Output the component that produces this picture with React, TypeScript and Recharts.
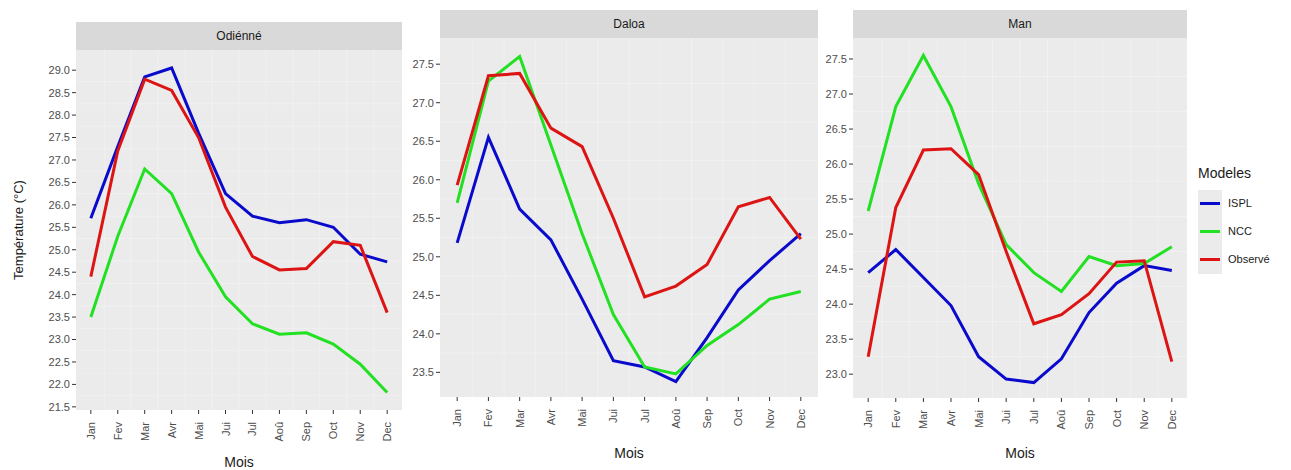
import React from 'react';
import { LineChart, Line, XAxis, YAxis, CartesianGrid, ReferenceLine } from 'recharts';

const months = ['Jan', 'Fev', 'Mar', 'Avr', 'Mai', 'Jui', 'Jul', 'Aoû', 'Sep', 'Oct', 'Nov', 'Dec'];

const odienneISPL = [25.7, 27.3, 28.85, 29.05, 27.6, 26.25, 25.75, 25.6, 25.67, 25.5, 24.9, 24.73];
const odienneNCC = [23.5, 25.3, 26.8, 26.25, 24.95, 23.95, 23.35, 23.12, 23.15, 22.9, 22.45, 21.82];
const odienneObs = [24.4, 27.2, 28.8, 28.55, 27.5, 25.95, 24.85, 24.55, 24.58, 25.18, 25.1, 23.6];

const daloaISPL = [25.18, 26.55, 25.62, 25.22, 24.45, 23.65, 23.57, 23.38, 23.95, 24.57, 24.95, 25.3];
const daloaNCC = [25.7, 27.28, 27.6, 26.45, 25.3, 24.25, 23.57, 23.48, 23.85, 24.12, 24.45, 24.55];
const daloaObs = [25.93, 27.35, 27.38, 26.67, 26.43, 25.5, 24.48, 24.62, 24.9, 25.65, 25.77, 25.23];

const manISPL = [24.45, 24.78, 24.38, 23.98, 23.25, 22.93, 22.88, 23.22, 23.88, 24.3, 24.55, 24.48];
const manNCC = [25.33, 26.82, 27.55, 26.82, 25.72, 24.85, 24.45, 24.18, 24.68, 24.55, 24.58, 24.82];
const manObs = [23.25, 25.38, 26.2, 26.22, 25.85, 24.75, 23.72, 23.85, 24.15, 24.6, 24.62, 23.18];

const odienneTicks = [21.5, 22, 22.5, 23, 23.5, 24, 24.5, 25, 25.5, 26, 26.5, 27, 27.5, 28, 28.5, 29];
const daloaTicks = [23.5, 24, 24.5, 25, 25.5, 26, 26.5, 27, 27.5];
const manTicks = [23, 23.5, 24, 24.5, 25, 25.5, 26, 26.5, 27, 27.5];

const COLORS = { ispl: '#0a0acc', ncc: '#22e022', obs: '#dd1414' };
const FONT = '"Liberation Sans", Arial, sans-serif';

const build = (a: number[], b: number[], c: number[]) =>
  months.map((m, i) => ({ x: i + 1, ispl: a[i], ncc: b[i], obs: c[i] }));

const XTick = (props: any) => {
  const { x, y, payload } = props;
  return (
    <text
      x={0}
      y={0}
      transform={`translate(${x + 4},${y + 6}) rotate(-90)`}
      textAnchor="end"
      fontSize={11}
      fill="#4d4d4d"
      fontFamily={FONT}
    >
      {months[payload.value - 1]}
    </text>
  );
};

interface PanelProps {
  title: string;
  data: any[];
  ticks: number[];
  domain: [number, number];
  left: number;
  top: number;
  yWidth: number;
  plotW: number;
  plotH: number;
  moisTop: number;
}

const Panel = ({ title, data, ticks, domain, left, top, yWidth, plotW, plotH, moisTop }: PanelProps) => {
  const minorY = ticks.slice(0, -1).map((t) => t + 0.25);
  const minorX = months.slice(0, -1).map((_, i) => i + 1.5);
  return (
    <div style={{ position: 'absolute', left, top, fontFamily: FONT }}>
      <div
        style={{
          position: 'absolute', left: yWidth, top: 0, width: plotW, height: 28,
          background: '#d9d9d9', color: '#1a1a1a', fontSize: 12, lineHeight: '28px', textAlign: 'center',
        }}
      >
        {title}
      </div>
      <div style={{ position: 'absolute', left: 0, top: 28 }}>
        <LineChart
          width={yWidth + plotW + 8}
          height={plotH + 50}
          data={data}
          margin={{ top: 0, right: 8, left: 0, bottom: 0 }}
        >
          <rect x={yWidth} y={0} width={plotW} height={plotH} fill="#ebebeb" />
          {minorY.map((v) => (
            <ReferenceLine key={'my' + v} y={v} stroke="#f5f5f5" strokeWidth={0.6} />
          ))}
          {minorX.map((v) => (
            <ReferenceLine key={'mx' + v} x={v} stroke="#f5f5f5" strokeWidth={0.6} />
          ))}
          <CartesianGrid stroke="#ffffff" strokeWidth={1.2} />
          <XAxis
            type="number"
            dataKey="x"
            domain={[0.45, 12.55]}
            ticks={months.map((_, i) => i + 1)}
            interval={0}
            height={50}
            tick={<XTick />}
            tickSize={4}
            axisLine={false}
            tickLine={{ stroke: '#333' }}
          />
          <YAxis
            type="number"
            domain={domain}
            ticks={ticks}
            interval={0}
            width={yWidth}
            tickFormatter={(v) => v.toFixed(1)}
            tick={{ fontSize: 11, fill: '#4d4d4d', fontFamily: FONT }}
            tickSize={4}
            axisLine={false}
            tickLine={{ stroke: '#333' }}
            allowDataOverflow
          />
          <Line type="linear" dataKey="ispl" stroke={COLORS.ispl} strokeWidth={3} dot={false} isAnimationActive={false} />
          <Line type="linear" dataKey="ncc" stroke={COLORS.ncc} strokeWidth={3} dot={false} isAnimationActive={false} />
          <Line type="linear" dataKey="obs" stroke={COLORS.obs} strokeWidth={3} dot={false} isAnimationActive={false} />
        </LineChart>
      </div>
      <div
        style={{
          position: 'absolute', left: yWidth, width: plotW, top: moisTop - top, fontSize: 14,
          color: '#1a1a1a', textAlign: 'center', lineHeight: '16px',
        }}
      >
        Mois
      </div>
    </div>
  );
};

const legendItems = [
  { label: 'ISPL', color: COLORS.ispl },
  { label: 'NCC', color: COLORS.ncc },
  { label: 'Observé', color: COLORS.obs },
];

export default function App() {
  return (
    <div style={{ position: 'absolute', left: 0, top: 0, width: 1291, height: 470, background: '#fff', fontFamily: FONT }}>
      <div
        style={{
          position: 'absolute', left: 18, top: 230, transform: 'translate(-50%,-50%) rotate(-90deg)',
          fontSize: 13, color: '#1a1a1a', whiteSpace: 'nowrap',
        }}
      >
        Température (°C)
      </div>
      <Panel title="Odiénné" data={build(odienneISPL, odienneNCC, odienneObs)} ticks={odienneTicks}
        domain={[21.43, 29.45]} left={0} top={22} yWidth={76} plotW={326} plotH={360} moisTop={454} />
      <Panel title="Daloa" data={build(daloaISPL, daloaNCC, daloaObs)} ticks={daloaTicks}
        domain={[23.18, 27.84]} left={400} top={10} yWidth={40} plotW={378} plotH={359} moisTop={445} />
      <Panel title="Man" data={build(manISPL, manNCC, manObs)} ticks={manTicks}
        domain={[22.66, 27.8]} left={810} top={10} yWidth={43} plotW={334} plotH={360} moisTop={445} />
      <div style={{ position: 'absolute', left: 1198, top: 165, fontSize: 14, color: '#1a1a1a' }}>Modeles</div>
      {legendItems.map((it, i) => (
        <div key={it.label} style={{ position: 'absolute', left: 1212 - 14, top: 190 + i * 28, height: 28 }}>
          <div style={{ position: 'absolute', left: 0, top: 0, width: 24, height: 28, background: '#ebebeb' }} />
          <div style={{ position: 'absolute', left: 2, top: 12, width: 20, height: 3, background: it.color }} />
          <div style={{ position: 'absolute', left: 30, top: 7, fontSize: 11, color: '#1a1a1a', whiteSpace: 'nowrap' }}>
            {it.label}
          </div>
        </div>
      ))}
    </div>
  );
}
